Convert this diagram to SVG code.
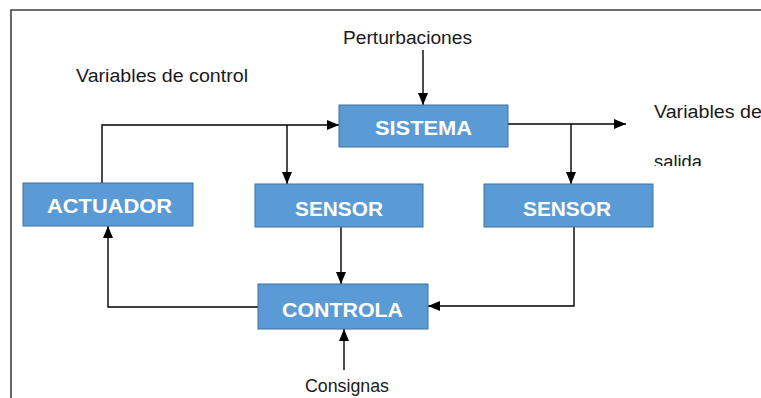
<svg xmlns="http://www.w3.org/2000/svg" width="761" height="398" viewBox="0 0 761 398">
  <style>
    .box { fill: #5b9bd5; stroke: #41719c; stroke-width: 1; }
    .lbl { font-family: "Liberation Sans", Arial, sans-serif; font-weight: bold; font-size: 20px; fill: #ffffff; text-anchor: middle; }
    .txt { font-family: "Liberation Sans", Arial, sans-serif; font-size: 18px; fill: #1a1a1a; }
    .wire { fill: none; stroke: #000000; stroke-width: 1.4; }
    .frame { fill: none; stroke: #404040; stroke-width: 1.6; }
  </style>
  <defs>
    <marker id="arrow" viewBox="0 0 12 10" refX="12" refY="5" markerWidth="12" markerHeight="10" markerUnits="userSpaceOnUse" orient="auto">
      <path d="M0,0 L12,5 L0,10 Z" fill="#000000"/>
    </marker>
    <clipPath id="clipSalida">
      <rect x="640" y="140" width="121" height="26"/>
    </clipPath>
  </defs>

  <rect width="761" height="398" fill="#ffffff"/>
  <!-- page frame -->
  <path class="frame" d="M11,398 L11,10 L761,10"/>

  <!-- free labels -->
  <text class="txt" x="343" y="44" textLength="129" lengthAdjust="spacingAndGlyphs">Perturbaciones</text>
  <text class="txt" x="76" y="82" textLength="172" lengthAdjust="spacingAndGlyphs">Variables de control</text>
  <text class="txt" x="654" y="118" textLength="108" lengthAdjust="spacingAndGlyphs">Variables de</text>
  <text class="txt" x="654" y="168" clip-path="url(#clipSalida)" textLength="48" lengthAdjust="spacingAndGlyphs">salida</text>
  <text class="txt" x="305" y="392" textLength="84" lengthAdjust="spacingAndGlyphs">Consignas</text>

  <g id="connectors">
    <!-- disturbance into system -->
    <path class="wire" d="M423,50 L423,105" marker-end="url(#arrow)"/>
    <!-- actuator to system -->
    <path class="wire" d="M102,183 L102,125 L339,125" marker-end="url(#arrow)"/>
    <!-- branch to first sensor -->
    <path class="wire" d="M287,125 L287,184" marker-end="url(#arrow)"/>
    <!-- system output -->
    <path class="wire" d="M508,124 L626,124" marker-end="url(#arrow)"/>
    <!-- branch to second sensor -->
    <path class="wire" d="M571,124 L571,184" marker-end="url(#arrow)"/>
    <!-- first sensor to controller -->
    <path class="wire" d="M341,227 L341,284" marker-end="url(#arrow)"/>
    <!-- second sensor to controller -->
    <path class="wire" d="M574,227 L574,306 L428,306" marker-end="url(#arrow)"/>
    <!-- controller to actuator -->
    <path class="wire" d="M258,307 L108,307 L108,226" marker-end="url(#arrow)"/>
    <!-- set points into controller -->
    <path class="wire" d="M344,370 L344,329" marker-end="url(#arrow)"/>
  </g>

  <g id="sistema">
    <rect class="box" x="339" y="105" width="169" height="42"/>
    <text class="lbl" x="423.5" y="135" textLength="97" lengthAdjust="spacingAndGlyphs">SISTEMA</text>
  </g>
  <g id="actuador">
    <rect class="box" x="23" y="183" width="170" height="43"/>
    <text class="lbl" x="109.5" y="213" textLength="125" lengthAdjust="spacingAndGlyphs">ACTUADOR</text>
  </g>
  <g id="sensor1">
    <rect class="box" x="255" y="184" width="168" height="43"/>
    <text class="lbl" x="339" y="216" textLength="88" lengthAdjust="spacingAndGlyphs">SENSOR</text>
  </g>
  <g id="sensor2">
    <rect class="box" x="484" y="184" width="169" height="43"/>
    <text class="lbl" x="567" y="216" textLength="88" lengthAdjust="spacingAndGlyphs">SENSOR</text>
  </g>
  <g id="controla">
    <rect class="box" x="258" y="284" width="170" height="45"/>
    <text class="lbl" x="342.5" y="317" textLength="121" lengthAdjust="spacingAndGlyphs">CONTROLA</text>
  </g>
</svg>
